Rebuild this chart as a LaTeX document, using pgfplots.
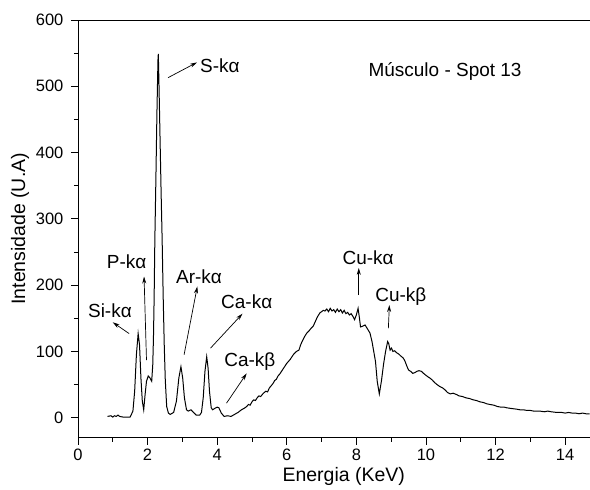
\documentclass[border=0pt]{standalone}
\usepackage{fontspec}
\setmainfont{Liberation Sans}
\usepackage{pgfplots}
\pgfplotsset{compat=1.18}
\usetikzlibrary{arrows.meta}

\begin{document}
\begin{tikzpicture}
\begin{axis}[
    scale only axis,
    width=512pt, height=418pt,
    xmin=0, xmax=14.7,
    ymin=-30, ymax=600,
    axis lines=left,
    axis line style={-, line width=0.8pt},
    xtick={0,2,...,14}, minor xtick={1,3,...,13},
    ytick={0,100,...,600}, minor ytick={50,150,...,550},
    tick align=outside,
    major tick length=7pt, minor tick length=4pt,
    tick style={black, line width=0.8pt},
    tick label style={font=\fontsize{16.5}{20}\selectfont},
    yticklabel shift=4pt,
    xticklabel shift=1pt,
    /pgf/number format/assume math mode=true,
    xlabel={Energia (KeV)},
    ylabel={Intensidade (U.A)},
    label style={font=\fontsize{19.5}{22}\selectfont},
    xlabel style={xshift=10pt},
    clip=false,
]

% espectro
\addplot[black, line width=1pt] coordinates {
    (0.85,2) (0.95,3) (1.00,1) (1.05,3) (1.10,2) (1.15,4) (1.20,2) (1.30,1) (1.40,1) (1.50,1)
    (1.58,10) (1.63,40) (1.68,95) (1.73,127) (1.77,110) (1.81,60) (1.85,25) (1.89,12)
    (1.93,35) (1.97,55) (2.02,63) (2.07,60) (2.12,55)
    (2.15,80) (2.17,120) (2.19,182) (2.21,268) (2.24,360) (2.27,460) (2.30,540) (2.31,549)
    (2.33,500) (2.36,420) (2.39,340) (2.42,268) (2.45,182) (2.48,110) (2.51,57) (2.55,17)
    (2.60,7) (2.65,5)
    (2.75,8) (2.83,25) (2.90,60) (2.96,77) (3.01,60) (3.06,30) (3.12,12) (3.17,10)
    (3.25,12) (3.32,8) (3.40,4) (3.50,4)
    (3.55,8) (3.60,30) (3.65,70) (3.70,92) (3.74,75) (3.78,40) (3.83,15) (3.87,12)
    (3.93,14) (4.00,16) (4.05,15) (4.12,7) (4.20,2) (4.30,3) (4.40,2)
    (4.50,5) (4.60,8) (4.70,12) (4.80,15) (4.85,17) (4.90,20) (4.95,19) (5.00,24)
    (5.05,27) (5.10,26) (5.15,30) (5.20,33) (5.25,32) (5.33,37) (5.40,40) (5.45,39)
    (5.50,45) (5.55,48) (5.61,52) (5.65,56) (5.70,58) (5.75,63) (5.80,66) (5.85,70)
    (5.90,74) (5.95,78) (6.00,82) (6.05,85) (6.10,88) (6.15,92) (6.20,96) (6.28,100)
    (6.35,102) (6.40,110) (6.45,116) (6.52,123) (6.58,128) (6.64,131) (6.70,135)
    (6.76,138) (6.82,145) (6.88,152) (6.95,158) (7.00,160) (7.05,162)
    (7.10,161) (7.15,164) (7.20,160) (7.25,165) (7.30,161) (7.35,163) (7.40,159)
    (7.45,164) (7.50,160) (7.55,163) (7.60,158) (7.65,162) (7.70,157) (7.75,159)
    (7.80,155) (7.85,157) (7.90,153) (7.95,148) (8.00,155) (8.05,165) (8.09,150)
    (8.12,137) (8.18,138) (8.25,140) (8.32,134) (8.39,128) (8.45,115) (8.50,100)
    (8.55,85) (8.60,55) (8.66,36) (8.72,55) (8.78,80) (8.84,100) (8.90,115) (8.93,112)
    (8.97,102) (9.01,105) (9.05,100) (9.10,101) (9.16,98) (9.22,96) (9.28,93) (9.35,90)
    (9.40,85) (9.45,78) (9.50,72) (9.56,70) (9.62,67) (9.68,68) (9.74,70) (9.80,71)
    (9.87,70) (9.93,67) (10.00,64) (10.05,62) (10.11,60) (10.18,57) (10.25,53)
    (10.32,50) (10.40,47) (10.48,45) (10.55,42) (10.62,38) (10.70,36) (10.78,37)
    (10.88,35) (10.95,33) (11.05,32) (11.15,30) (11.25,29) (11.36,27) (11.45,26)
    (11.55,24) (11.65,23) (11.75,21) (11.84,20) (11.95,19) (12.05,17) (12.15,16)
    (12.25,16) (12.32,15) (12.45,14) (12.60,13) (12.70,12) (12.80,12) (12.90,11)
    (13.00,11) (13.10,10) (13.20,10) (13.28,10) (13.40,9) (13.50,10) (13.60,9)
    (13.76,8) (13.90,8) (14.00,7) (14.10,8) (14.20,7) (14.30,7) (14.40,6) (14.50,7)
    (14.60,6) (14.70,6)
};

% linha superior e margens
\draw[line width=0.8pt] (rel axis cs:0,1) -- (rel axis cs:1,1);
\path (rel axis cs:0,1) -- ++(0pt,20pt);
\path (rel axis cs:0,0.5) -- ++(-78pt,0pt);

% anotacoes
\tikzset{seta/.style={-{Stealth[length=7pt,width=4pt]}, line width=0.7pt}}
\tikzset{rot/.style={font=\fontsize{19}{22}\selectfont}}
\draw[seta] (axis cs:2.59,513) -- (axis cs:3.42,536);
\node[rot] at (axis cs:4.08,531) {S-kα};
\draw[seta] (axis cs:1.47,127) -- (axis cs:1.00,144);
\node[rot] at (axis cs:0.92,162) {Si-kα};
\draw[seta] (axis cs:1.97,87) -- (axis cs:1.90,213);
\node[rot] at (axis cs:1.40,236) {P-kα};
\draw[seta] (axis cs:3.05,95) -- (axis cs:3.43,198);
\node[rot] at (axis cs:3.48,213) {Ar-kα};
\draw[seta] (axis cs:3.81,105) -- (axis cs:4.73,157);
\node[rot] at (axis cs:4.85,175) {Ca-kα};
\draw[seta] (axis cs:4.27,22) -- (axis cs:4.85,67);
\node[rot] at (axis cs:4.94,85) {Ca-kβ};
\draw[seta] (axis cs:8.07,185) -- (axis cs:8.07,226);
\node[rot] at (axis cs:8.34,241) {Cu-kα};
\draw[seta] (axis cs:8.92,135) -- (axis cs:8.95,170);
\node[rot] at (axis cs:9.28,182) {Cu-kβ};
\node[rot] at (axis cs:10.55,523) {Músculo - Spot 13};

\end{axis}
\end{tikzpicture}
\end{document}
